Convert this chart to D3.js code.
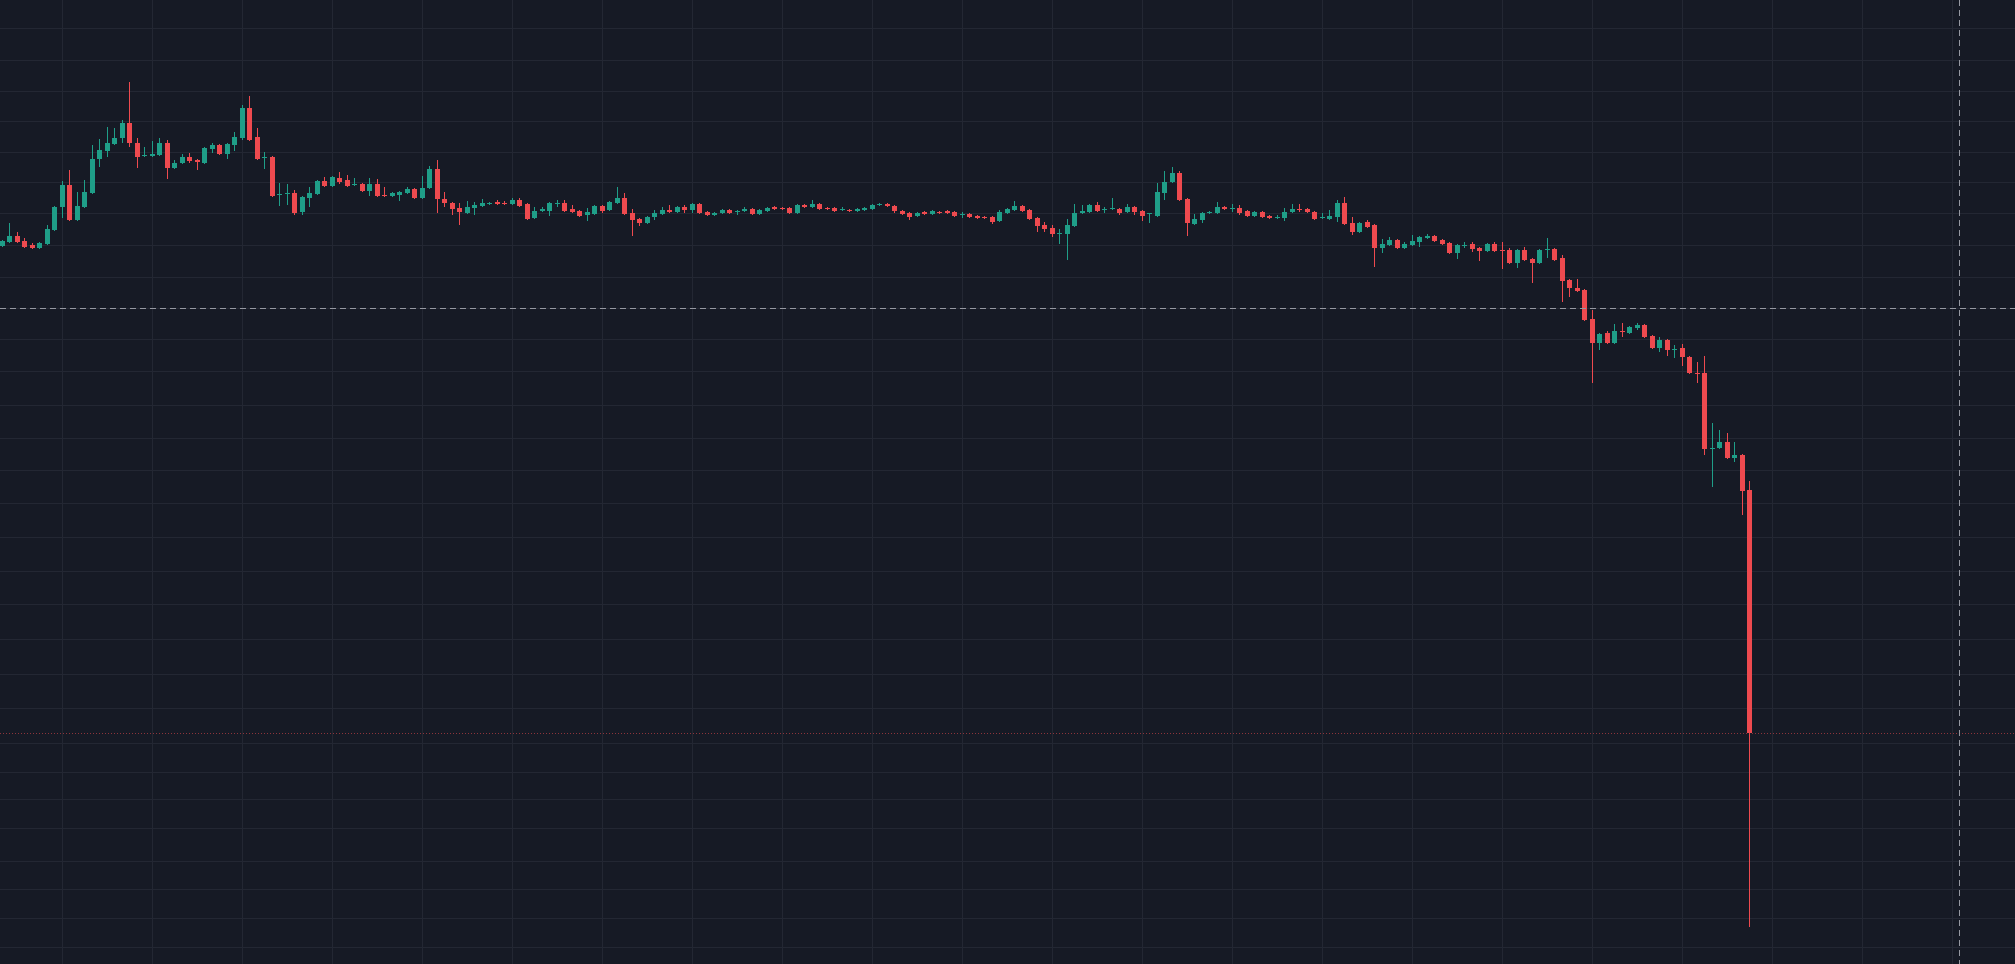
<!DOCTYPE html>
<html>
<head>
<meta charset="utf-8">
<script src="https://cdn.jsdelivr.net/npm/d3@7"></script>
<style>
	html, body { margin: 0; padding: 0; background: #161a25; overflow: hidden; }
</style>
</head>
<body>
<div id="chart"></div>
<script>
	// OHLC per bar (one bar every 7.5px, oldest first)
	let openPrices = [
		7.54, 7.58, 7.64, 7.59, 7.55, 7.52, 7.56, 7.70, 7.93, 8.15,
		7.80, 7.93, 8.07, 8.41, 8.49, 8.56, 8.62, 8.77, 8.57, 8.44,
		8.44, 8.45, 8.57, 8.32, 8.37, 8.43, 8.40, 8.37, 8.51, 8.55,
		8.46, 8.55, 8.62, 8.92, 8.63, 8.42, 8.43, 8.05, 8.06, 8.07,
		7.88, 8.02, 8.06, 8.19, 8.14, 8.22, 8.20, 8.15, 8.16, 8.09,
		8.16, 8.05, 8.04, 8.05, 8.07, 8.11, 8.02, 8.12, 8.31, 8.01,
		7.97, 7.92, 7.87, 7.92, 7.94, 7.96, 7.98, 7.97, 7.96, 8.00,
		7.96, 7.82, 7.89, 7.89, 7.96, 7.97, 7.91, 7.89, 7.85, 7.86,
		7.94, 7.90, 7.97, 8.02, 7.87, 7.81, 7.77, 7.83, 7.86, 7.90,
		7.88, 7.93, 7.90, 7.96, 7.88, 7.85, 7.87, 7.90, 7.88, 7.89,
		7.91, 7.86, 7.89, 7.93, 7.92, 7.92, 7.87, 7.95, 7.93, 7.96,
		7.92, 7.92, 7.90, 7.90, 7.89, 7.90, 7.91, 7.95, 7.96, 7.94,
		7.89, 7.87, 7.84, 7.88, 7.86, 7.88, 7.89, 7.88, 7.85, 7.86,
		7.84, 7.83, 7.83, 7.79, 7.87, 7.90, 7.94, 7.90, 7.82, 7.75,
		7.72, 7.66, 7.66, 7.74, 7.87, 7.88, 7.95, 7.90, 7.91, 7.91,
		7.88, 7.93, 7.89, 7.86, 7.84, 8.07, 8.18, 8.27, 8.01, 7.76,
		7.80, 7.87, 7.87, 7.93, 7.91, 7.92, 7.89, 7.84, 7.88, 7.84,
		7.82, 7.82, 7.88, 7.91, 7.91, 7.88, 7.82, 7.81, 7.83, 7.97,
		7.77, 7.68, 7.78, 7.75, 7.52, 7.55, 7.60, 7.52, 7.55, 7.58,
		7.62, 7.64, 7.60, 7.57, 7.47, 7.54, 7.56, 7.52, 7.49, 7.56,
		7.50, 7.50, 7.37, 7.50, 7.41, 7.37, 7.50, 7.51, 7.42, 7.20,
		7.12, 7.10, 6.81, 6.57, 6.67, 6.57, 6.69, 6.67, 6.72, 6.75,
		6.64, 6.52, 6.60, 6.50, 6.52, 6.43, 6.27, 6.27, 5.51, 5.52,
		5.58, 5.42, 5.45, 5.10
	];
	let highPrices = [
		7.60, 7.77, 7.68, 7.62, 7.57, 7.58, 7.75, 7.94, 8.19, 8.30,
		8.08, 8.20, 8.55, 8.61, 8.73, 8.72, 8.80, 9.18, 8.62, 8.53,
		8.59, 8.62, 8.60, 8.40, 8.46, 8.47, 8.41, 8.53, 8.57, 8.56,
		8.57, 8.68, 8.95, 9.04, 8.72, 8.48, 8.44, 8.17, 8.16, 8.10,
		8.04, 8.13, 8.20, 8.23, 8.24, 8.28, 8.25, 8.22, 8.17, 8.22,
		8.21, 8.13, 8.08, 8.09, 8.13, 8.12, 8.24, 8.34, 8.40, 8.08,
		7.98, 7.97, 7.99, 7.98, 8.01, 7.98, 8.00, 7.99, 8.02, 8.02,
		7.97, 7.93, 7.93, 7.98, 8.00, 8.00, 7.95, 7.90, 7.92, 7.95,
		7.95, 7.99, 8.13, 8.07, 7.91, 7.82, 7.84, 7.90, 7.93, 7.95,
		7.94, 7.95, 7.97, 7.97, 7.89, 7.88, 7.91, 7.91, 7.90, 7.93,
		7.92, 7.91, 7.93, 7.94, 7.93, 7.93, 7.96, 7.96, 8.00, 7.97,
		7.93, 7.93, 7.93, 7.91, 7.92, 7.93, 7.96, 7.97, 7.97, 7.95,
		7.90, 7.88, 7.88, 7.89, 7.90, 7.89, 7.90, 7.89, 7.88, 7.87,
		7.85, 7.84, 7.84, 7.90, 7.92, 7.99, 7.95, 7.91, 7.83, 7.78,
		7.75, 7.71, 7.81, 7.96, 7.95, 7.96, 7.98, 7.93, 8.02, 7.92,
		7.96, 7.94, 7.90, 7.87, 8.17, 8.29, 8.33, 8.29, 8.02, 7.86,
		7.88, 7.89, 7.98, 7.94, 7.96, 7.95, 7.90, 7.89, 7.89, 7.85,
		7.85, 7.92, 7.96, 7.96, 7.92, 7.89, 7.87, 7.90, 8.00, 8.03,
		7.83, 7.78, 7.80, 7.76, 7.61, 7.63, 7.61, 7.58, 7.65, 7.64,
		7.66, 7.65, 7.61, 7.58, 7.56, 7.58, 7.58, 7.53, 7.57, 7.58,
		7.58, 7.52, 7.51, 7.53, 7.42, 7.51, 7.62, 7.52, 7.45, 7.21,
		7.21, 7.11, 6.90, 6.67, 6.69, 6.76, 6.77, 6.74, 6.77, 6.76,
		6.65, 6.63, 6.61, 6.55, 6.56, 6.44, 6.38, 6.44, 5.77, 5.70,
		5.67, 5.58, 5.46, 5.19
	];
	let lowPrices = [
		7.53, 7.57, 7.57, 7.52, 7.51, 7.51, 7.55, 7.69, 7.82, 7.79,
		7.79, 7.92, 8.06, 8.33, 8.43, 8.55, 8.57, 8.53, 8.32, 8.43,
		8.43, 8.44, 8.21, 8.31, 8.36, 8.37, 8.30, 8.36, 8.47, 8.45,
		8.41, 8.49, 8.60, 8.59, 8.40, 8.31, 8.03, 7.94, 7.95, 7.85,
		7.85, 7.93, 8.05, 8.13, 8.13, 8.16, 8.13, 8.14, 8.08, 8.04,
		8.03, 8.03, 8.03, 7.99, 8.06, 8.01, 8.01, 8.11, 7.87, 7.93,
		7.85, 7.75, 7.86, 7.85, 7.93, 7.95, 7.95, 7.95, 7.95, 7.93,
		7.80, 7.81, 7.88, 7.84, 7.93, 7.88, 7.87, 7.83, 7.79, 7.85,
		7.87, 7.89, 7.96, 7.85, 7.64, 7.74, 7.76, 7.80, 7.85, 7.87,
		7.87, 7.87, 7.87, 7.86, 7.84, 7.84, 7.86, 7.86, 7.85, 7.88,
		7.85, 7.85, 7.88, 7.90, 7.90, 7.86, 7.86, 7.92, 7.92, 7.90,
		7.90, 7.88, 7.89, 7.88, 7.88, 7.89, 7.90, 7.94, 7.93, 7.87,
		7.85, 7.80, 7.83, 7.85, 7.85, 7.86, 7.86, 7.83, 7.82, 7.82,
		7.81, 7.81, 7.76, 7.78, 7.86, 7.89, 7.88, 7.80, 7.68, 7.68,
		7.63, 7.56, 7.40, 7.73, 7.86, 7.87, 7.88, 7.87, 7.90, 7.85,
		7.87, 7.85, 7.79, 7.77, 7.83, 8.00, 8.17, 7.99, 7.64, 7.75,
		7.77, 7.86, 7.86, 7.90, 7.88, 7.85, 7.83, 7.83, 7.82, 7.81,
		7.81, 7.79, 7.87, 7.88, 7.87, 7.80, 7.81, 7.80, 7.78, 7.75,
		7.65, 7.67, 7.72, 7.33, 7.47, 7.54, 7.51, 7.51, 7.54, 7.53,
		7.61, 7.58, 7.55, 7.46, 7.41, 7.52, 7.48, 7.39, 7.48, 7.48,
		7.31, 7.36, 7.32, 7.39, 7.17, 7.36, 7.42, 7.39, 6.98, 7.03,
		7.08, 6.79, 6.17, 6.50, 6.56, 6.56, 6.63, 6.66, 6.70, 6.62,
		6.51, 6.48, 6.44, 6.42, 6.34, 6.26, 6.17, 5.45, 5.13, 5.51,
		5.41, 5.38, 4.85, 0.73
	];
	let closePrices = [
		7.59, 7.64, 7.58, 7.53, 7.52, 7.57, 7.71, 7.93, 8.15, 7.80,
		7.94, 8.08, 8.41, 8.50, 8.57, 8.62, 8.77, 8.57, 8.43, 8.45,
		8.46, 8.57, 8.32, 8.37, 8.43, 8.39, 8.38, 8.52, 8.55, 8.46,
		8.56, 8.63, 8.92, 8.60, 8.41, 8.43, 8.04, 8.06, 8.07, 7.87,
		8.03, 8.07, 8.19, 8.14, 8.23, 8.18, 8.14, 8.16, 8.09, 8.16,
		8.04, 8.04, 8.07, 8.08, 8.11, 8.02, 8.12, 8.31, 8.01, 7.97,
		7.91, 7.88, 7.93, 7.95, 7.97, 7.97, 7.96, 7.96, 8.00, 7.94,
		7.81, 7.89, 7.91, 7.97, 7.97, 7.89, 7.88, 7.84, 7.88, 7.94,
		7.89, 7.98, 8.02, 7.86, 7.80, 7.77, 7.83, 7.87, 7.90, 7.88,
		7.93, 7.90, 7.96, 7.87, 7.85, 7.87, 7.90, 7.87, 7.89, 7.91,
		7.86, 7.90, 7.92, 7.91, 7.91, 7.87, 7.95, 7.93, 7.96, 7.91,
		7.91, 7.89, 7.91, 7.89, 7.91, 7.92, 7.95, 7.96, 7.94, 7.89,
		7.86, 7.83, 7.87, 7.86, 7.89, 7.87, 7.87, 7.84, 7.86, 7.83,
		7.82, 7.82, 7.78, 7.88, 7.91, 7.94, 7.89, 7.81, 7.74, 7.71,
		7.66, 7.67, 7.75, 7.87, 7.89, 7.95, 7.89, 7.91, 7.92, 7.87,
		7.93, 7.88, 7.84, 7.87, 8.08, 8.18, 8.27, 8.00, 7.77, 7.81,
		7.87, 7.88, 7.93, 7.91, 7.92, 7.87, 7.84, 7.88, 7.83, 7.82,
		7.83, 7.88, 7.91, 7.90, 7.88, 7.81, 7.83, 7.84, 7.97, 7.76,
		7.68, 7.77, 7.73, 7.52, 7.56, 7.60, 7.52, 7.56, 7.59, 7.63,
		7.64, 7.59, 7.56, 7.47, 7.55, 7.55, 7.51, 7.49, 7.56, 7.49,
		7.49, 7.37, 7.50, 7.40, 7.37, 7.50, 7.51, 7.40, 7.19, 7.12,
		7.09, 6.80, 6.57, 6.66, 6.57, 6.69, 6.68, 6.73, 6.75, 6.63,
		6.52, 6.60, 6.50, 6.51, 6.43, 6.27, 6.26, 5.51, 5.52, 5.58,
		5.42, 5.45, 5.09, 2.67
	];

	// price levels of the horizontal grid lines
	let gridPrices = [
		9.72, 9.405, 9.095, 8.79, 8.485, 8.18, 7.87, 7.55, 7.23, 6.92,
		6.61, 6.29, 5.95, 5.62, 5.30, 4.97, 4.63, 4.29, 3.96, 3.61,
		3.26, 2.92, 2.57, 2.28, 2.01, 1.72, 1.39, 1.11, 0.82, 0.53
	];
	let firstGridBar = 8;
	let barsPerGrid = 12;

	// crosshair position (bar index, price)
	let crosshairBar = 261;
	let crosshairPrice = 6.92;

	let width = 2015;
	let height = 964;
	let bodyWidth = 5;

	let upColor = "#1f9e88";
	let downColor = "#ee4a4f";

	let bars = openPrices.map((o, i) => ({
		i: i,
		open: o,
		high: highPrices[i],
		low: lowPrices[i],
		close: closePrices[i]
	}));

	let xScale = d3.scaleLinear()
		.domain([0, crosshairBar])
		.range([1.8, 1959.3]);

	let yScale = d3.scaleLinear()
		.domain([0.36, 10])
		.range([height, 0]);

	let svg = d3.select("#chart")
		.append("svg")
		.attr("width", width)
		.attr("height", height)
		.style("display", "block")
		.style("background", "#161a25");

	// Horizontal grid
	svg.append("g")
		.attr("class", "grid-y")
		.call(d3.axisLeft(yScale).tickValues(gridPrices).tickSize(-width).tickFormat(""))
		.call(g => g.select(".domain").remove())
		.call(g => g.selectAll(".tick line")
			.attr("stroke", "#232733")
			.attr("shape-rendering", "crispEdges"));

	// Vertical grid
	let gridBars = d3.range(firstGridBar, crosshairBar, barsPerGrid);
	svg.append("g")
		.attr("class", "grid-x")
		.call(d3.axisTop(xScale).tickValues(gridBars).tickSize(-height).tickFormat(""))
		.call(g => g.select(".domain").remove())
		.call(g => g.selectAll(".tick line")
			.attr("stroke", "#232733")
			.attr("shape-rendering", "crispEdges"));

	// Last price line
	let lastClose = closePrices[closePrices.length - 1];
	svg.append("line")
		.attr("x1", 0)
		.attr("x2", width)
		.attr("y1", Math.round(yScale(lastClose)) + 0.5)
		.attr("y2", Math.round(yScale(lastClose)) + 0.5)
		.attr("stroke", downColor)
		.attr("stroke-opacity", 0.55)
		.attr("stroke-dasharray", "1,2");

	// Candles
	let candle = svg.append("g")
		.attr("class", "candles")
		.selectAll("g")
		.data(bars)
		.enter()
		.append("g");

	candle.append("line")
		.attr("x1", d => Math.round(xScale(d.i)) + 0.5)
		.attr("x2", d => Math.round(xScale(d.i)) + 0.5)
		.attr("y1", d => yScale(d.high))
		.attr("y2", d => yScale(d.low))
		.attr("stroke", d => d.close >= d.open ? upColor : downColor)
		.attr("stroke-width", 1);

	candle.append("rect")
		.attr("x", d => Math.round(xScale(d.i)) - Math.floor(bodyWidth / 2))
		.attr("y", d => yScale(Math.max(d.open, d.close)))
		.attr("width", bodyWidth)
		.attr("height", d => Math.max(1, Math.abs(yScale(d.open) - yScale(d.close))))
		.attr("fill", d => d.close >= d.open ? upColor : downColor);

	// Crosshair
	let cx = Math.round(xScale(crosshairBar)) + 0.5;
	let cy = Math.round(yScale(crosshairPrice)) + 0.5;

	svg.append("line")
		.attr("x1", 0)
		.attr("x2", width)
		.attr("y1", cy)
		.attr("y2", cy)
		.attr("stroke", "#9598a1")
		.attr("stroke-dasharray", "6,4");

	svg.append("line")
		.attr("x1", cx)
		.attr("x2", cx)
		.attr("y1", 0)
		.attr("y2", height)
		.attr("stroke", "#9598a1")
		.attr("stroke-dasharray", "6,4");
</script>
</body>
</html>
